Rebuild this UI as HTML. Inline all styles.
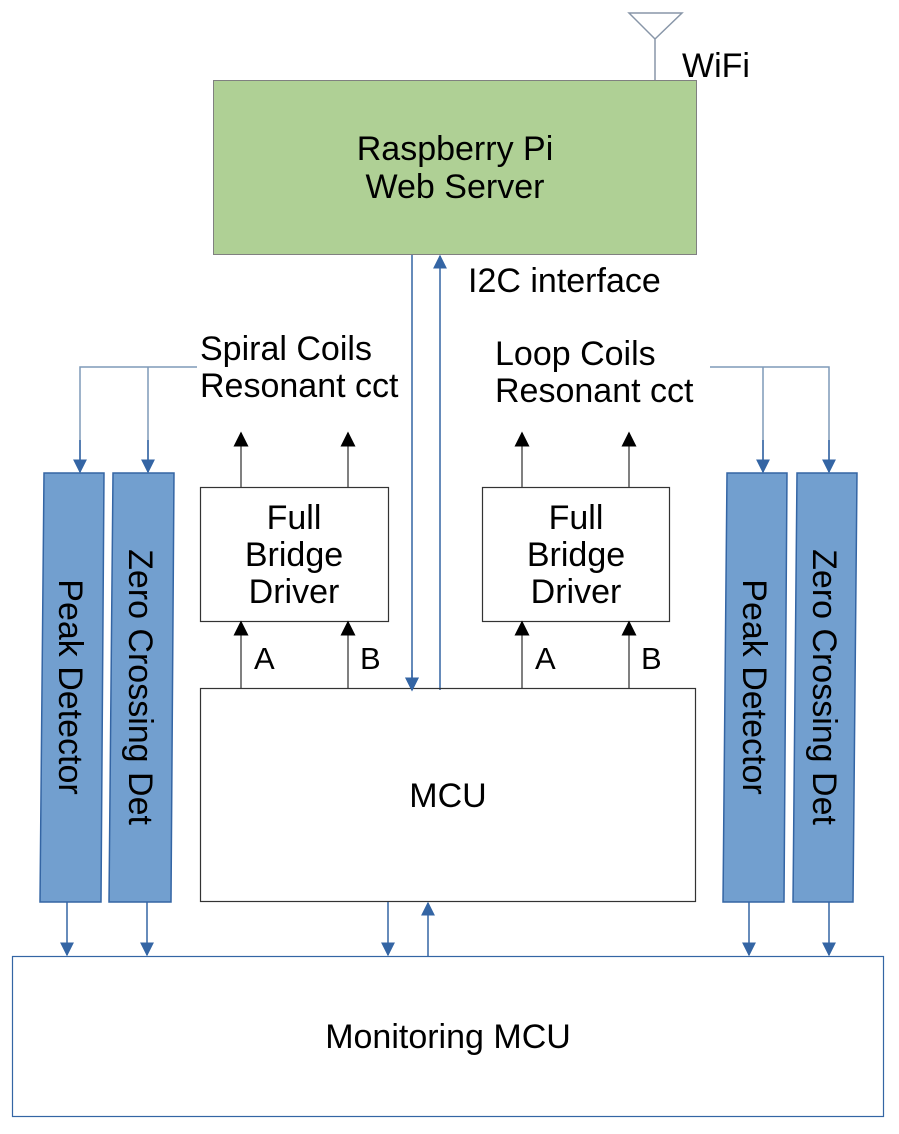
<!DOCTYPE html>
<html><head><meta charset="utf-8"><style>
body{margin:0;background:#fff}
svg text{font-family:"Liberation Sans",sans-serif;fill:#000}
</style></head><body>
<svg width="899" height="1129" viewBox="0 0 899 1129" xmlns="http://www.w3.org/2000/svg">
<defs>
<marker id="bl" viewBox="0 0 10 10" refX="9" refY="5" markerWidth="14" markerHeight="14" markerUnits="userSpaceOnUse" orient="auto"><path d="M0,0L10,5L0,10z" fill="#3465a4"/></marker>
<marker id="bk" viewBox="0 0 10 10" refX="9" refY="5" markerWidth="15" markerHeight="15" markerUnits="userSpaceOnUse" orient="auto"><path d="M0,0L10,5L0,10z" fill="#000"/></marker>
</defs>
<path d="M629,13L682,13L655,39Z M655,39L655,80" fill="none" stroke="#8896a8" stroke-width="1.5"/>
<text x="682" y="77" font-size="34">WiFi</text>
<rect x="213.5" y="80.5" width="483" height="174" fill="#afd095" stroke="#808080"/>
<text x="455" y="160" font-size="34" text-anchor="middle">Raspberry Pi</text>
<text x="455" y="198" font-size="34" text-anchor="middle">Web Server</text>
<line x1="412" y1="255" x2="412" y2="690" stroke="#3465a4" stroke-width="1.5" marker-end="url(#bl)"/>
<line x1="440" y1="690" x2="440" y2="256" stroke="#3465a4" stroke-width="1.5" marker-end="url(#bl)"/>
<text x="468" y="292" font-size="34">I2C interface</text>
<text x="200" y="360" font-size="34">Spiral Coils</text>
<text x="200" y="397" font-size="34">Resonant cct</text>
<text x="495" y="365" font-size="34">Loop Coils</text>
<text x="495" y="402" font-size="34">Resonant cct</text>
<g fill="none" stroke="#7f9ab8" stroke-width="1.5">
<path d="M197,367H80V472 M148,367V472"/>
<path d="M710,367H829V472 M763,367V472"/>
</g>
<g stroke="#3465a4" stroke-width="1.5">
<line x1="80" y1="440" x2="80" y2="472" marker-end="url(#bl)"/>
<line x1="148" y1="440" x2="148" y2="472" marker-end="url(#bl)"/>
<line x1="763" y1="440" x2="763" y2="472" marker-end="url(#bl)"/>
<line x1="829" y1="440" x2="829" y2="472" marker-end="url(#bl)"/>
</g>
<g fill="#729fcf" stroke="#3465a4" stroke-width="1.5">
<path d="M44,473H104L101,902H40Z"/>
<path d="M113,473H174L171,902H109Z"/>
<path d="M727,473H787L784,902H723Z"/>
<path d="M797,473H857L853,902H793Z"/>
</g>
<g font-size="34">
<text transform="translate(59,687) rotate(90)" text-anchor="middle">Peak Detector</text>
<text transform="translate(129,687) rotate(90)" text-anchor="middle">Zero Crossing Det</text>
<text transform="translate(743,687) rotate(90)" text-anchor="middle">Peak Detector</text>
<text transform="translate(813,687) rotate(90)" text-anchor="middle">Zero Crossing Det</text>
</g>
<g fill="#fff" stroke="#333" stroke-width="1.2">
<rect x="200.5" y="487.5" width="188" height="134"/>
<rect x="482.5" y="487.5" width="187" height="134"/>
</g>
<g font-size="34" text-anchor="middle">
<text x="294" y="529">Full</text><text x="294" y="566">Bridge</text><text x="294" y="603">Driver</text>
<text x="576" y="529">Full</text><text x="576" y="566">Bridge</text><text x="576" y="603">Driver</text>
</g>
<g stroke="#555" stroke-width="1.5">
<line x1="241" y1="487" x2="241" y2="433" marker-end="url(#bk)"/>
<line x1="348" y1="487" x2="348" y2="433" marker-end="url(#bk)"/>
<line x1="522" y1="487" x2="522" y2="433" marker-end="url(#bk)"/>
<line x1="629" y1="487" x2="629" y2="433" marker-end="url(#bk)"/>
<line x1="241" y1="688" x2="241" y2="622" marker-end="url(#bk)"/>
<line x1="348" y1="688" x2="348" y2="622" marker-end="url(#bk)"/>
<line x1="522" y1="688" x2="522" y2="622" marker-end="url(#bk)"/>
<line x1="629" y1="688" x2="629" y2="622" marker-end="url(#bk)"/>
</g>
<g font-size="31"><text x="254" y="669">A</text><text x="360" y="669">B</text><text x="535" y="669">A</text><text x="641" y="669">B</text></g>
<rect x="200.5" y="688.5" width="495" height="213" fill="none" stroke="#333" stroke-width="1.2"/>
<line x1="412" y1="670" x2="412" y2="690" stroke="#3465a4" stroke-width="1.5" marker-end="url(#bl)"/>
<text x="448" y="807" font-size="34" text-anchor="middle">MCU</text>
<rect x="12.5" y="956.5" width="871" height="160" fill="none" stroke="#3465a4" stroke-width="1.2"/>
<text x="448" y="1048" font-size="34" text-anchor="middle">Monitoring MCU</text>
<g stroke="#3465a4" stroke-width="1.5">
<line x1="67" y1="902" x2="67" y2="955" marker-end="url(#bl)"/>
<line x1="147" y1="902" x2="147" y2="955" marker-end="url(#bl)"/>
<line x1="749" y1="902" x2="749" y2="955" marker-end="url(#bl)"/>
<line x1="829" y1="902" x2="829" y2="955" marker-end="url(#bl)"/>
<line x1="388" y1="902" x2="388" y2="955" marker-end="url(#bl)"/>
<line x1="428" y1="956" x2="428" y2="903" marker-end="url(#bl)"/>
</g>
</svg>
</body></html>
